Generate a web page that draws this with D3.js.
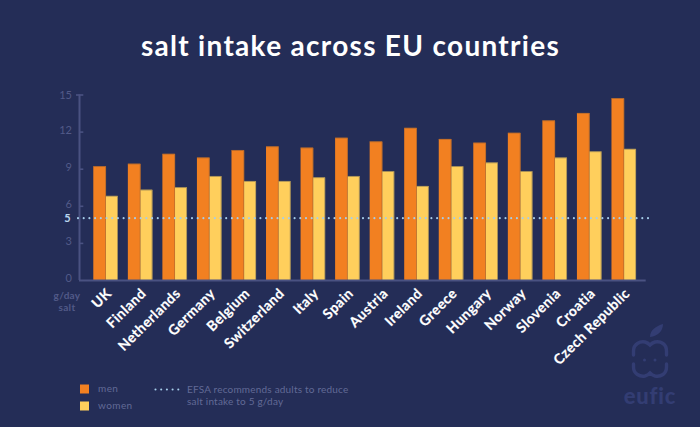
<!DOCTYPE html>
<html><head><meta charset="utf-8">
<script src="https://cdn.jsdelivr.net/npm/d3@7/dist/d3.min.js"></script>
<style>html,body{margin:0;padding:0;background:#242d57}svg{display:block}text{font-family:Lato,sans-serif}</style>
</head><body><svg id="c" width="700" height="427"></svg>
<script>
const countries=["UK","Finland","Netherlands","Germany","Belgium","Switzerland","Italy","Spain","Austria","Ireland","Greece","Hungary","Norway","Slovenia","Croatia","Czech Republic"];
const men=[9.2,9.4,10.2,9.9,10.5,10.8,10.7,11.5,11.2,12.3,11.4,11.1,11.9,12.9,13.5,14.7];
const women=[6.8,7.3,7.5,8.4,8.0,8.0,8.3,8.4,8.8,7.6,9.2,9.5,8.8,9.9,10.4,10.6];
const yTicks=[0,3,6,9,12,15];
const reference=5;
const title="salt intake across EU countries";
const seriesNames=["men","women"];
const note=["EFSA recommends adults to reduce","salt intake to 5 g/day"];
const unit=["g/day","salt"];

const bg="#242d57",axisC="#4a5282",muted="#525a88",mutedLegend="#626a96",cMen="#f28021",cWomen="#ffcf5c",dot="#a6cdea";
const svg=d3.select("#c");
svg.append("rect").attr("width",700).attr("height",427).attr("fill",bg);
svg.append("text").attr("x",350.5).attr("y",56).attr("text-anchor","middle").attr("fill","#fff")
  .attr("font-size",28).attr("font-weight",700).attr("letter-spacing",1.3).text(title);

const y=d3.scaleLinear().domain([0,15]).range([280,94.5]);
const x=d3.scaleBand().domain(countries).range([93.3,636]).paddingInner(0.29).paddingOuter(0);
const bw=x.bandwidth();

const bars=svg.append("g");
[[men,cMen,0,"#a9662f"],[women,cWomen,1,"#8f7f58"]].forEach(([vals,col,k,edge])=>{
  const g=bars.append("g");
  g.selectAll("rect").data(vals).join("rect")
    .attr("x",(d,i)=>x(countries[i])+k*bw*0.515)
    .attr("y",d=>y(d))
    .attr("width",bw*(k?0.485:0.515))
    .attr("height",d=>y(0)-y(d))
    .attr("fill",col);
  g.selectAll("path").data(vals).join("path")
    .attr("d",(d,i)=>{const x0=x(countries[i])+k*bw*0.515,w=bw*(k?0.485:0.515);
      return `M${x0},${y(d)+.3}H${x0+w-.3}V${y(0)}`;})
    .attr("fill","none").attr("stroke",edge).attr("stroke-width",.7);
});

// axes
const yAxis=d3.axisLeft(y).tickValues(yTicks).tickSize(5).tickPadding(3).tickFormat(d3.format("d"));
const ga=svg.append("g").attr("transform","translate(79.5,0)").call(yAxis);
ga.select(".domain").attr("stroke",axisC).attr("stroke-width",2).attr("d",`M0,${y(15)}V${y(0)}`);
ga.selectAll(".tick line").attr("stroke",axisC).attr("stroke-width",1.6).attr("x1",d=>d===15?-3.5:0).attr("x2",3.8);
ga.selectAll(".tick line").filter(d=>d===0).attr("x1",0).attr("x2",0);
ga.selectAll(".tick text").attr("fill",muted).attr("font-size",11).attr("font-family","Lato,sans-serif").attr("x",-7.5)
  .attr("y",d=>d===15?0:-2);

const xAxis=d3.axisBottom(x).tickSize(0).tickPadding(0);
const gx=svg.append("g").attr("transform","translate(0,280.5)").call(xAxis);
gx.select(".domain").attr("stroke",axisC).attr("stroke-width",2).attr("d","M79,0H645.7");
gx.selectAll(".tick text")
  .attr("transform",`translate(4,11) rotate(-45)`)
  .attr("text-anchor","end").attr("x",0).attr("y",0).attr("dy",4)
  .attr("fill","#fff").attr("stroke","#fff").attr("stroke-width",.2)
  .attr("font-size",14).attr("font-weight",700).attr("font-family","Lato,sans-serif").attr("letter-spacing",.45);

// reference line
svg.append("line").attr("x1",78).attr("x2",650).attr("y1",y(reference)).attr("y2",y(reference))
  .attr("stroke",dot).attr("stroke-width",2.1).attr("stroke-linecap","round").attr("stroke-dasharray","0 5.7");
svg.append("text").attr("x",67.5).attr("y",y(reference)+4).attr("text-anchor","middle")
  .attr("fill","#b9d6ee").attr("font-size",11).attr("font-weight",700).text(reference);

// unit label
svg.selectAll("text.unit").data(unit).join("text").attr("class","unit")
  .attr("x",67).attr("y",(d,i)=>299+i*11.5).attr("text-anchor","middle")
  .attr("fill",muted).attr("font-size",10).attr("font-weight",700).attr("letter-spacing",.3).text(d=>d);

// legend
const legY=[389,406];
seriesNames.forEach((n,i)=>{
  svg.append("rect").attr("x",80).attr("y",legY[i]-4.5).attr("width",9).attr("height",9).attr("fill",i?cWomen:cMen);
  svg.append("text").attr("x",98).attr("y",legY[i]+2.5).attr("fill",mutedLegend).attr("font-size",10).attr("letter-spacing",.4).text(n);
});
svg.append("line").attr("x1",155.5).attr("x2",179).attr("y1",389.5).attr("y2",389.5)
  .attr("stroke",dot).attr("stroke-width",2.1).attr("stroke-linecap","round").attr("stroke-dasharray","0 5.7");
note.forEach((t,i)=>svg.append("text").attr("x",187).attr("y",393+i*12.3).attr("fill",mutedLegend)
  .attr("font-size",10).attr("letter-spacing",.2).text(t));

// logo
const logoC="#333d73";
const lg=svg.append("g").attr("fill","none").attr("stroke",logoC).attr("stroke-linecap","round");
lg.append("path").attr("d","M650,337C650,330 656,326 663,324C663,331 658,336 650,337Z").attr("fill",logoC).attr("stroke","none");
lg.append("path").attr("stroke-width",3.4).attr("d","M633.5,355V351C633.5,344 640,341 645,342C647,342.5 649,344 650,345C651,344 653,342.5 655,342C661,341 666.5,344 666.5,351V355");
lg.append("path").attr("stroke-width",3.4).attr("d","M633.5,364V367C633.5,374 640,377 645,376C647,375.5 649,374 650,373C651,374 653,375.5 655,376C661,377 666.5,374 666.5,367V364");
lg.append("circle").attr("cx",644.5).attr("cy",360).attr("r",1.5).attr("fill",logoC).attr("stroke","none");
lg.append("circle").attr("cx",655).attr("cy",360).attr("r",1.5).attr("fill",logoC).attr("stroke","none");
svg.append("text").attr("x",650).attr("y",404).attr("text-anchor","middle").attr("fill",logoC)
  .attr("font-size",22).attr("font-weight",900).attr("letter-spacing",.8).text("eufic");
</script></body></html>
